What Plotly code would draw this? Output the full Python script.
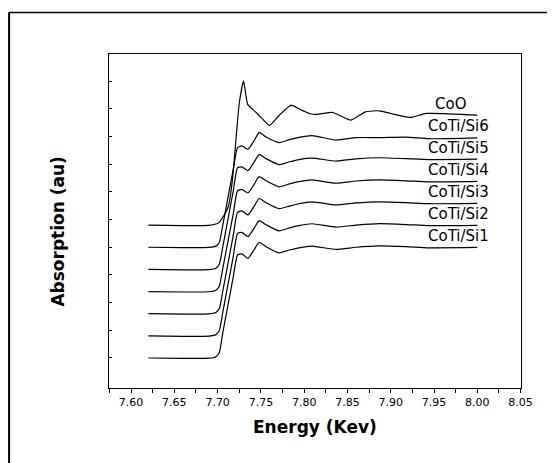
import plotly.graph_objects as go

# ---- data ----
series_names = ["CoTi/Si1", "CoTi/Si2", "CoTi/Si3", "CoTi/Si4", "CoTi/Si5", "CoTi/Si6", "CoO"]
offsets = [0.25, 0.45, 0.65, 0.85, 1.05, 1.25, 1.45]

energy_si = [7.620, 7.660, 7.690, 7.698, 7.702, 7.706, 7.712, 7.718, 7.723, 7.728, 7.735,
             7.742, 7.748, 7.756, 7.771, 7.783, 7.794, 7.809, 7.837, 7.860, 7.887, 7.918,
             7.944, 8.000]

abs_si1 = [0.000, -0.004, -0.002, 0.012, 0.050, 0.230, 0.480, 0.730, 0.930, 0.940, 0.900,
           0.975, 1.045, 1.005, 0.950, 0.975, 0.995, 1.010, 0.980, 1.000, 1.012, 1.005,
           0.995, 0.998]
abs_si2 = [0.000, -0.004, -0.002, 0.011, 0.048, 0.215, 0.465, 0.715, 0.925, 0.935, 0.895,
           0.970, 1.040, 1.003, 0.948, 0.975, 0.995, 1.012, 0.982, 1.000, 1.013, 1.005,
           0.995, 0.998]
abs_si3 = [0.000, -0.004, -0.002, 0.010, 0.046, 0.205, 0.455, 0.705, 0.915, 0.928, 0.892,
           0.968, 1.040, 1.002, 0.948, 0.972, 0.993, 1.010, 0.982, 1.000, 1.010, 1.003,
           0.993, 0.996]
abs_si4 = [0.000, -0.004, -0.002, 0.012, 0.050, 0.210, 0.455, 0.700, 0.910, 0.922, 0.890,
           0.966, 1.038, 1.000, 0.946, 0.972, 0.992, 1.008, 0.978, 0.998, 1.008, 1.000,
           0.990, 0.995]
abs_si5 = [0.000, -0.004, -0.002, 0.011, 0.048, 0.205, 0.455, 0.705, 0.918, 0.925, 0.892,
           0.966, 1.038, 1.000, 0.946, 0.972, 0.992, 1.005, 0.978, 0.998, 1.008, 1.000,
           0.992, 0.995]
abs_si6 = [0.000, -0.004, -0.002, 0.010, 0.045, 0.200, 0.450, 0.700, 0.900, 0.915, 0.885,
           0.960, 1.038, 0.995, 0.945, 0.972, 0.992, 1.008, 0.968, 0.990, 0.990, 0.995,
           0.980, 0.988]

energy_coo = [7.620, 7.660, 7.690, 7.698, 7.702, 7.7055, 7.709, 7.7125, 7.717, 7.725, 7.730,
              7.7347, 7.740, 7.744, 7.7505, 7.760, 7.771, 7.785, 7.794, 7.806, 7.814, 7.833,
              7.854, 7.871, 7.887, 7.900, 7.923, 7.941, 8.000]
abs_coo = [0.000, -0.004, -0.002, 0.010, 0.025, 0.065, 0.110, 0.170, 0.400, 1.100, 1.300,
           1.090, 1.050, 1.020, 0.970, 0.900, 0.990, 1.083, 1.050, 1.008, 1.000, 1.017,
           0.948, 1.023, 1.032, 1.008, 0.972, 1.008, 0.993]

x_tick_vals = [7.60, 7.65, 7.70, 7.75, 7.80, 7.85, 7.90, 7.95, 8.00, 8.05]
y_tick_vals = [0.25, 0.50, 0.75, 1.00, 1.25, 1.50, 1.75, 2.00, 2.25, 2.50, 2.75]

# ---- figure ----
energies = [energy_si] * 6 + [energy_coo]
absorbances = [abs_si1, abs_si2, abs_si3, abs_si4, abs_si5, abs_si6, abs_coo]

FONT = "DejaVu Sans"
fig = go.Figure()
for name, off, xs, ys in zip(series_names, offsets, energies, absorbances):
    fig.add_trace(go.Scatter(
        x=xs, y=[v + off for v in ys], mode="lines", name=name,
        line=dict(color="black", width=1.2, shape="spline", smoothing=0.5),
        showlegend=False, hoverinfo="skip"))

# curve labels, placed just above the right-hand end of each curve
label_x = {"CoO": 7.9695}
for name, off, ys in zip(series_names, offsets, absorbances):
    fig.add_annotation(x=label_x.get(name, 7.978), y=off + ys[-1] + 0.105, text=name,
                       showarrow=False, xanchor="center", yanchor="middle",
                       font=dict(family=FONT, size=15, color="black"))

# axis titles
fig.add_annotation(xref="paper", yref="paper", x=0.5, y=-0.117, text="Energy (Kev)",
                   showarrow=False, xanchor="center", yanchor="middle",
                   font=dict(family=FONT, size=17, color="black", weight="bold"))
fig.add_annotation(xref="paper", yref="paper", x=-0.124, y=0.468, text="Absorption (au)",
                   showarrow=False, xanchor="center", yanchor="middle", textangle=-90,
                   font=dict(family=FONT, size=17, color="black", weight="bold"))

# outer frame of the picture (left and top edges)
fig.add_shape(type="line", xref="paper", yref="paper", x0=-0.2425, x1=-0.2425, y0=-0.3, y1=1.1243,
              line=dict(color="black", width=2))
fig.add_shape(type="line", xref="paper", yref="paper", x0=-0.2425, x1=1.2, y0=1.1243, y1=1.1243,
              line=dict(color="black", width=1.5))

fig.update_xaxes(range=[7.5745, 8.0505], tickvals=x_tick_vals,
                 ticktext=[f"{v:.2f}" for v in x_tick_vals],
                 ticks="outside", ticklen=4, tickwidth=1, tickcolor="black",
                 minor=dict(dtick=0.025, tick0=7.575, ticks="outside", ticklen=4,
                            tickwidth=1, tickcolor="black", showgrid=False),
                 showline=True, linecolor="black", linewidth=1, mirror=True,
                 showgrid=False, zeroline=False,
                 tickfont=dict(family=FONT, size=11, color="black"))
fig.update_yaxes(range=[-0.021, 2.995], tickvals=y_tick_vals, showticklabels=False,
                 ticks="inside", ticklen=3, tickwidth=1, tickcolor="black",
                 showline=True, linecolor="black", linewidth=1, mirror=True,
                 showgrid=False, zeroline=False)

# the page adds an 8 px body margin, so the figure is 8 px smaller and margins shifted
fig.update_layout(width=547, height=455,
                  margin=dict(l=101.3, r=34.3, t=46, b=75),
                  paper_bgcolor="white", plot_bgcolor="white")

fig.write_html("out.html")
